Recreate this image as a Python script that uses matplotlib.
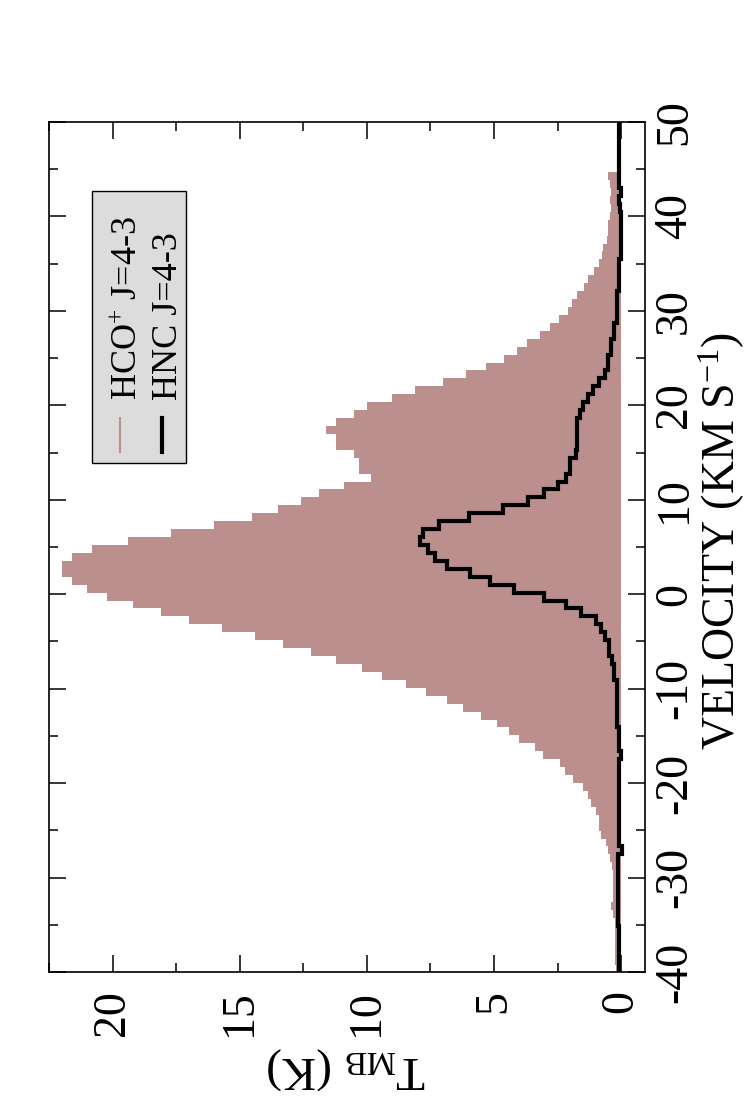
import numpy as np
import matplotlib
matplotlib.use('Agg')
import matplotlib.pyplot as plt
from matplotlib.patches import Rectangle
from matplotlib.lines import Line2D
from matplotlib.ticker import MultipleLocator

plt.rcParams['font.family'] = 'Liberation Serif'
plt.rcParams['mathtext.fontset'] = 'custom'
plt.rcParams['mathtext.rm'] = 'Liberation Serif'
plt.rcParams['mathtext.it'] = 'Liberation Serif:italic'

# spectra: channel grid (km/s) and main beam temperatures (K)
vel_start = -40.99
chan_width = 0.84

hco_43 = [0.20, 0.20, 0.23, 0.23, 0.23, 0.23, 0.23, 0.23, 0.30, 0.39,
          0.31, 0.31, 0.31, 0.31, 0.35, 0.45, 0.50, 0.60, 0.78, 0.86,
          0.88, 1.00, 1.20, 1.32, 1.50, 1.90, 2.21, 2.40, 3.08, 3.40,
          4.02, 4.40, 4.90, 5.50, 6.23, 6.85, 7.67, 8.45, 9.40, 10.2,
          11.2, 12.2, 13.3, 14.4, 15.7, 17.0, 18.1, 19.2, 20.2, 21.0,
          21.6, 22.0, 22.0, 21.6, 20.8, 19.4, 17.7, 16.0, 14.5, 13.5,
          12.6, 11.9, 10.9, 9.84, 10.3, 10.3, 10.5, 11.2, 11.2, 11.6,
          11.2, 10.5, 10.0, 9.0, 8.1, 7.0, 6.1, 5.3, 4.6, 4.1,
          3.7, 3.2, 2.8, 2.45, 2.1, 1.95, 1.75, 1.45, 1.3, 1.05,
          0.85, 0.75, 0.70, 0.55, 0.50, 0.50, 0.45, 0.40, 0.45, 0.40,
          0.45, 0.50, 0, 0, 0, 0, 0, 0, 0]

hnc_43 = [0.08, 0.08, 0.08, 0.08, 0.08, 0.08, 0.08, 0.12, 0.12, 0.12,
          0.12, 0.12, 0.12, 0.12, 0.12, 0.12, -0.05, 0.10, 0.10, 0.10,
          0.10, 0.10, 0.10, 0.10, 0.10, 0.10, 0.10, 0.10, 0.0, 0.08,
          0.08, 0.08, 0.16, 0.16, 0.16, 0.16, 0.16, 0.16, 0.28, 0.28,
          0.36, 0.47, 0.47, 0.62, 0.78, 0.97, 1.59, 2.18, 3.04, 4.2,
          5.17, 5.95, 6.85, 7.3, 7.6, 7.9, 7.8, 7.15, 6.0, 4.66,
          3.65, 3.03, 2.5, 2.17, 2.02, 2.02, 1.79, 1.74, 1.74, 1.74,
          1.74, 1.6, 1.48, 1.32, 1.09, 0.85, 0.62, 0.51, 0.51, 0.39,
          0.39, 0.28, 0.28, 0.16, 0.16, 0.16, 0.16, 0.08, 0.08, 0.08,
          0.08, 0.0, 0.02, 0.0, 0.02, 0.0, 0.0, 0.05, 0.08, 0.0,
          0.08, 0.08, 0.08, 0.08, 0.08, 0.08, 0.08, 0.08, 0.08]

vel_ticks = [-40, -30, -20, -10, 0, 10, 20, 30, 40, 50]
temp_ticks = [0, 5, 10, 15, 20]

edges = vel_start + chan_width * np.arange(len(hco_43) + 1)

W, H = 746, 1100
fig = plt.figure(figsize=(W / 100, H / 100), dpi=100)
# plot is drawn turned on its side: velocity runs up, temperature runs left
ax = fig.add_axes([49 / W, 1 - 972 / H, 596 / W, 850 / H])

ax.stairs(hco_43, edges, orientation='horizontal', fill=True,
          color='#bc8f8f', baseline=0)
ax.stairs(hnc_43, edges, orientation='horizontal', color='black',
          lw=3, baseline=None)

ax.set_xlim(22.5, -0.94)
ax.set_ylim(-40, 50)

ax.set_xticks(temp_ticks)
ax.set_xticklabels([str(t) for t in temp_ticks], rotation=90, ha='center', va='top')
ax.set_yticks(vel_ticks)
ax.set_yticklabels([str(v) for v in vel_ticks], rotation=90, ha='left', va='center')
ax.xaxis.set_minor_locator(MultipleLocator(2.5))
ax.yaxis.set_minor_locator(MultipleLocator(5))

ax.tick_params(which='both', direction='in', top=True, bottom=True,
               left=True, right=True, labelleft=False, labelright=True,
               width=1.1, labelsize=33)
ax.tick_params(which='major', length=12)
ax.tick_params(which='minor', length=6.5)
ax.tick_params(axis='x', pad=13)
ax.tick_params(axis='y', pad=6)
for sp in ax.spines.values():
    sp.set_linewidth(1.2)

fig.text(722 / W, 1 - 541 / H, 'VELOCITY (KM S$^{\\mathregular{-1}}$)', rotation=90,
         ha='center', va='center', fontsize=33)
fig.text(346 / W, 1 - 1068 / H, 'T$_{\\mathrm{MB}}$ (K)', rotation=180,
         ha='center', va='center', fontsize=34)

# legend box, rotated like the rest
fig.add_artist(Rectangle((92 / W, 1 - 463 / H), 94 / W, 272 / H,
                         transform=fig.transFigure, facecolor='#dcdcdc',
                         edgecolor='black', lw=1))
fig.add_artist(Line2D([120 / W, 120 / W], [1 - 452 / H, 1 - 418 / H],
                      transform=fig.transFigure, color='#bc8f8f', lw=1.5))
fig.add_artist(Line2D([162 / W, 162 / W], [1 - 452 / H, 1 - 418 / H],
                      transform=fig.transFigure, color='black', lw=3))
fig.text(137 / W, 1 - 400 / H, 'HCO$^{+}$ J=4-3', rotation=90,
         rotation_mode='anchor', ha='left', va='baseline', fontsize=26)
fig.text(177 / W, 1 - 400 / H, 'HNC J=4-3', rotation=90,
         rotation_mode='anchor', ha='left', va='baseline', fontsize=26)

fig.savefig('out.png', dpi=100)
